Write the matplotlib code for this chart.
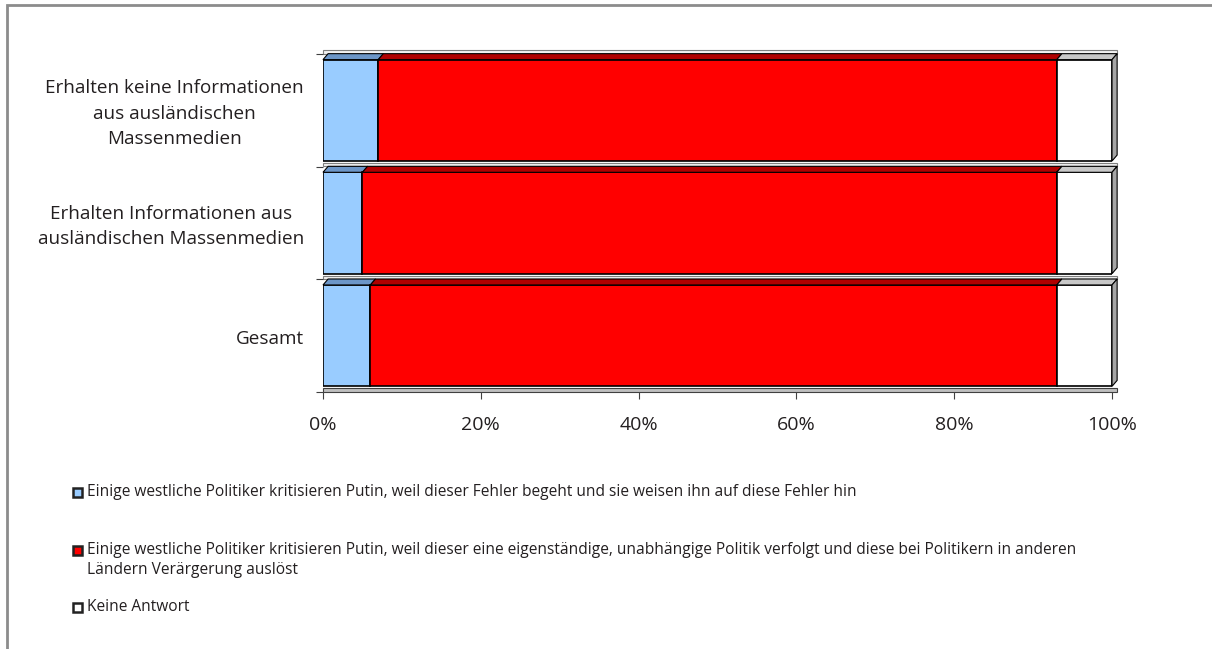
import matplotlib
matplotlib.use("Agg")
import matplotlib.pyplot as plt
from matplotlib.patches import Polygon, Rectangle
import numpy as np

plt.rcParams['font.family'] = ['Open Sans', 'DejaVu Sans']

# Categories (bottom to top on the axis)
categories = [
    "Gesamt",
    "Erhalten Informationen aus\nausländischen Massenmedien",
    "Erhalten keine Informationen\naus ausländischen\nMassenmedien",
]
# Shares in percent per category
share_errors = [6, 5, 7]
share_independent = [87, 88, 86]
share_no_answer = [7, 7, 7]

series_labels = [
    "Einige westliche Politiker kritisieren Putin, weil dieser Fehler begeht und sie weisen ihn auf diese Fehler hin",
    "Einige westliche Politiker kritisieren Putin, weil dieser eine eigenständige, unabhängige Politik verfolgt und diese bei Politikern in anderen\nLändern Verärgerung auslöst",
    "Keine Antwort",
]
x_ticks = [0, 20, 40, 60, 80, 100]

face_colors = ["#99ccff", "#ff0000", "#ffffff"]
top_colors = ["#6c96c8", "#b00000", "#c8c8c8"]
side_color = "#a6a6a6"
text_color = "#231f20"

W, H = 1212, 649
fig = plt.figure(figsize=(W / 100, H / 100), dpi=100)

# outer frame of the figure
fig.add_artist(Rectangle((7 / W, -0.01), 1.2, 1 - 5 / H + 0.01, transform=fig.transFigure,
                         fill=False, edgecolor="#8c8c8c", linewidth=2))

ax_left, ax_right = 323 / W, 1112 / W
ax_top, ax_bottom = 1 - 54 / H, 1 - 392 / H
ax = fig.add_axes([ax_left, ax_bottom, ax_right - ax_left, ax_top - ax_bottom])
ax.set_xlim(0, 100)
ax.set_ylim(-0.5, 2.5)
for s in ax.spines.values():
    s.set_visible(False)

bar_h = 0.9
dx = 0.65   # depth offset in x (percent units)
dy = 0.053  # depth offset in y (category units)

series = [share_errors, share_independent, share_no_answer]
for i, cat in enumerate(categories):
    y0 = i - bar_h / 2
    y1 = i + bar_h / 2
    # light slab above each bar
    ax.add_patch(Polygon([(0, y1 + dy), (100 + dx, y1 + dy), (100 + dx, y1 + dy + 0.03), (0, y1 + dy + 0.03)],
                         closed=True, facecolor="#f2f2f2", edgecolor="#7f7f7f", linewidth=0.8,
                         clip_on=False, zorder=1))
    left = 0
    for k, vals in enumerate(series):
        v = vals[i]
        ax.barh(i, v, left=left, height=bar_h, color=face_colors[k], edgecolor="black",
                linewidth=1.2, zorder=3)
        # top face
        ax.add_patch(Polygon([(left, y1), (left + v, y1), (left + v + dx, y1 + dy), (left + dx, y1 + dy)],
                             closed=True, facecolor=top_colors[k], edgecolor="black",
                             linewidth=0.8, clip_on=False, zorder=3))
        left += v
    # right side face
    ax.add_patch(Polygon([(left, y0), (left + dx, y0 + dy), (left + dx, y1 + dy), (left, y1)],
                         closed=True, facecolor=side_color, edgecolor="black", linewidth=0.8,
                         clip_on=False, zorder=3))

# floor slab
ax.add_patch(Polygon([(0, -0.5), (100 + dx, -0.5), (100 + dx, -0.5 + 0.035), (0, -0.5 + 0.035)],
                     closed=True, facecolor="#bfbfbf", edgecolor="#404040", linewidth=0.8,
                     clip_on=False, zorder=2))

ax.set_yticks([-0.5, 0.5, 1.5, 2.5])
ax.set_yticklabels([])
ax.tick_params(axis="y", length=5, width=0.8, color="#404040")
ax.set_xticks(x_ticks)
ax.set_xticklabels([f"{t}%" for t in x_ticks], fontsize=14, color=text_color)
ax.tick_params(axis="x", length=5, width=0.8, color="#404040", pad=12)

for i, cat in enumerate(categories):
    ax.text(-2.4, i - 0.03, cat, ha="right", va="center", multialignment="center",
            fontsize=13.6, linespacing=1.53, color=text_color, transform=ax.transData)

# legend
leg_y = [492, 550, 607]
for k, lab in enumerate(series_labels):
    y = 1 - leg_y[k] / H
    fig.add_artist(Rectangle((73 / W, y - 4.5 / H), 9 / W, 9 / H, transform=fig.transFigure,
                             facecolor=face_colors[k], edgecolor="#222222", linewidth=1.8))
    fig.text(87 / W, y + 8 / H, lab, ha="left", va="top", fontsize=11.2, linespacing=1.37,
             color=text_color)

fig.savefig("out.png", dpi=100)
